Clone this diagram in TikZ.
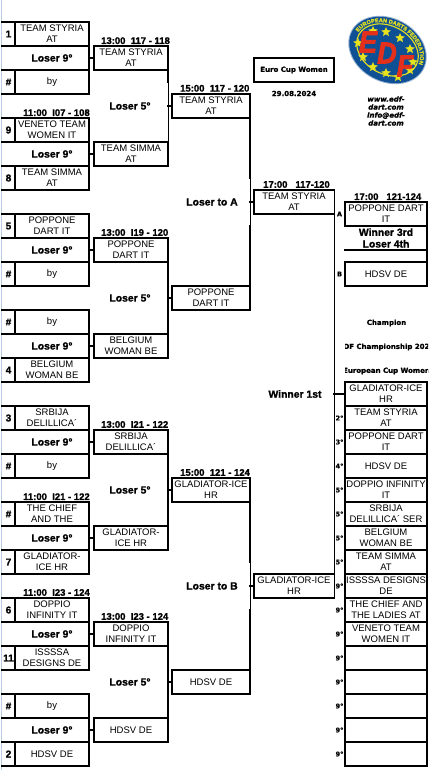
\documentclass[tikz,border=0pt]{standalone}
\usepackage{fontspec}
\setmainfont{Liberation Sans}[BoldFeatures={FakeBold=1.2},BoldItalicFeatures={FakeBold=3}]
\newfontfamily\wideblack{DejaVu Sans}[BoldFeatures={FakeBold=1},BoldItalicFeatures={FakeBold=1}]
\usetikzlibrary{shapes.geometric,decorations.text}
\definecolor{edfblue}{HTML}{0F4F94}
\definecolor{edfyellow}{HTML}{E6E21E}
\definecolor{edfred}{HTML}{E2301C}
\definecolor{gridblue}{HTML}{B9CDE5}
\tikzset{
  x=1pt,y=-1pt,
  bline/.style={line width=1.6pt,line cap=rect,line join=miter},
  thinline/.style={line width=0.9pt},
  teamtext/.style={inner sep=0pt,outer sep=0pt,align=center,font=\fontsize{9.5}{11}\selectfont},
  teambox/.style={teamtext,draw,line width=1.6pt,minimum width=#1,minimum height=24pt},
  blanklab/.style={teamtext,minimum width=#1,minimum height=24pt},
  boldlab/.style={inner sep=0pt,align=center,font=\fontsize{10.4}{12}\selectfont\bfseries},
  timelab/.style={inner sep=0pt,anchor=west,font=\fontsize{9.5}{11}\selectfont\bfseries},
  seedlab/.style={inner sep=0pt,font=\fontsize{10}{11}\selectfont\bfseries},
  ranklab/.style={inner sep=0pt,font=\fontsize{6.5}{7}\selectfont\wideblack\bfseries},
  tinylab/.style={inner sep=0pt,align=center,font=\fontsize{7}{8}\selectfont\wideblack\bfseries},
  urllab/.style={inner sep=0pt,align=center,font=\fontsize{7}{8}\selectfont\wideblack\bfseries\itshape},
  logostar/.style={star,star points=5,star point ratio=2.2,fill=edfyellow,inner sep=0pt,minimum size=10pt},
  logoletter/.style={inner sep=0pt,text=edfred,xscale=.9,font=\fontsize{30}{31}\selectfont\bfseries\itshape},
}
% id, top y, seed A, team A, seed B, team B
\newcommand{\seedgroup}[6]{
  \node[teambox=74pt] (t#1) at (52,#2+12) {#4};
  \node[teambox=74pt] (b#1) at (52,#2+60) {#6};
  \node[seedlab] (sa#1) at (8.5,#2+12) {#3};
  \node[seedlab] (sb#1) at (8.5,#2+60) {#5};
  \node[boldlab] (l#1) at (52,#2+36) {Loser 9°};
  \draw[bline] (t#1.north west) -- ++(-13,0);
  \draw[bline] (t#1.south west) -- ++(-13,0);
  \draw[bline] (b#1.north west) -- ++(-13,0);
  \draw[bline] (b#1.south west) -- ++(-13,0);
  \draw[bline] (t#1.south east) -- (b#1.north east);
}
% id, top y, team (second column), source group
\newcommand{\secondbox}[3]{
  \node[teambox=74pt] (w#1) at (131,#2+36) {#3};
  \draw[bline] (l#1 -| t#1.east) -- (w#1.west);
}
\begin{document}
\begin{tikzpicture}
\useasboundingbox (0,0) rectangle (428,770);
\fill[white] (0,0) rectangle (428,770);
\draw[gridblue,line width=1pt] (1,0) -- (1,770);

% first column
\seedgroup{1}{22}{1}{TEAM STYRIA\\AT}{\#}{by}
\seedgroup{2}{118}{9}{VENETO TEAM\\WOMEN IT}{8}{TEAM SIMMA\\AT}
\seedgroup{3}{214}{5}{POPPONE\\DART IT}{\#}{by}
\seedgroup{4}{310}{\#}{by}{4}{BELGIUM\\WOMAN BE}
\seedgroup{5}{406}{3}{SRBIJA\\DELILLICA´}{\#}{by}
\seedgroup{6}{502}{\#}{THE CHIEF\\AND THE}{7}{GLADIATOR-\\ICE HR}
\seedgroup{7}{598}{6}{DOPPIO\\INFINITY IT}{11}{ISSSSA\\DESIGNS DE}
\seedgroup{8}{694}{\#}{by}{2}{HDSV DE}

% second column
\secondbox{1}{22}{TEAM STYRIA\\AT}
\secondbox{2}{118}{TEAM SIMMA\\AT}
\secondbox{3}{214}{POPPONE\\DART IT}
\secondbox{4}{310}{BELGIUM\\WOMAN BE}
\secondbox{5}{406}{SRBIJA\\DELILLICA´}
\secondbox{6}{502}{GLADIATOR-\\ICE HR}
\secondbox{7}{598}{DOPPIO\\INFINITY IT}
\secondbox{8}{694}{HDSV DE}

% third column
\node[teambox=78pt] (q1) at (211,106) {TEAM STYRIA\\AT};
\node[teambox=78pt] (q2) at (211,298) {POPPONE\\DART IT};
\node[teambox=78pt] (q3) at (211,490) {GLADIATOR-ICE\\HR};
\node[teambox=78pt] (q4) at (211,682) {HDSV DE};

\node[boldlab] (m1) at (130,106) {Loser 5°};
\node[boldlab] (m2) at (130,298) {Loser 5°};
\node[boldlab] (m3) at (130,490) {Loser 5°};
\node[boldlab] (m4) at (130,682) {Loser 5°};

\coordinate (k1) at (168,82);
\draw[bline] (w1.south east) -- (k1);
\draw[thinline] (k1) -- (w2.north east);
\draw[bline] (w3.south east) -- (w4.north east);
\draw[bline] (w5.south east) -- (w6.north east);
\draw[bline] (w7.south east) -- (w8.north east);
\draw[bline] (q1.west -| w1.east) -- (q1.west);
\draw[bline] (q2.west -| w3.east) -- (q2.west);
\draw[bline] (q3.west -| w5.east) -- (q3.west);
\draw[bline] (q4.west -| w7.east) -- (q4.west);

% fourth column
\node[blanklab=80pt] (f1) at (294,202) {TEAM STYRIA\\AT};
\node[blanklab=80pt] (f2) at (294,586) {GLADIATOR-ICE\\HR};
\draw[bline] (f1.north east) -- (f1.north west) -- (f1.south west) -- (f1.south east);
\draw[bline] (f2.north east) -- (f2.north west) -- (f2.south west) -- (f2.south east);
\draw[thinline] (f1.north east) -- (f2.south east);

\node[boldlab] (la) at (212,202) {Loser to A};
\node[boldlab] (lb) at (212,586) {Loser to B};
\coordinate (ua1) at (250,178);
\coordinate (ua2) at (250,226);
\coordinate (ub1) at (250,562);
\coordinate (ub2) at (250,610);
\draw[bline] (q1.south east) -- (ua1);
\draw[thinline] (ua1) -- (ua2);
\draw[bline] (ua2) -- (q2.north east);
\draw[bline] (q3.south east) -- (ub1);
\draw[thinline] (ub1) -- (ub2);
\draw[bline] (ub2) -- (q4.north east);
\draw[bline] (f1.west -| q1.east) -- (f1.west);
\draw[bline] (f2.west -| q3.east) -- (f2.west);

% times
\node[timelab] (tm1) at (101,40.7) {13:00\ \ 117 - 118};
\node[timelab] (tm2) at (23,112.7) {11:00\ \ I07 - 108};
\node[timelab] (tm3) at (180,88.3) {15:00\ \ 117 - 120};
\node[timelab] (tm4) at (101,232.5) {13:00\ \ I19 - 120};
\node[timelab] (tm5) at (101,424.5) {13:00\ \ I21 - 122};
\node[timelab] (tm6) at (23,496.7) {11:00\ \ I21 - 122};
\node[timelab] (tm7) at (101,616.5) {13:00\ \ I23 - 124};
\node[timelab] (tm8) at (23,592.5) {11:00\ \ I23 - 124};
\node[timelab] (tm9) at (180,472.5) {15:00\ \ 121 - 124};
\node[timelab] (tm10) at (263,184.5) {17:00\ \ \ 117-120};
\node[timelab] (tm11) at (354,196.7) {17:00\ \ \ 121-124};

% A / B block
\node[teambox=82pt] (ra) at (386,214) {POPPONE DART\\IT};
\node[blanklab=82pt,font=\fontsize{10.4}{11.6}\selectfont\bfseries] (rm) at (386,238) {Winner 3rd\\Loser 4th};
\node[teambox=82pt] (rb) at (386,274) {HDSV DE};
\draw[bline] (rm.south west) -- (rm.south east);
\draw[bline] (ra.south east) -- (rb.north east);
\node[ranklab] (laba) at (339.5,214) {A};
\node[ranklab] (labb) at (339.5,274) {B};

% ranking
\node[teambox=82pt] (r1) at (386,394) {GLADIATOR-ICE\\HR};
\node[teambox=82pt] (r2) at (386,418) {TEAM STYRIA\\AT};
\node[teambox=82pt] (r3) at (386,442) {POPPONE DART\\IT};
\node[teambox=82pt] (r4) at (386,466) {HDSV DE};
\node[teambox=82pt] (r5) at (386,490) {DOPPIO INFINITY\\IT};
\node[teambox=82pt] (r6) at (386,514) {SRBIJA\\DELILLICA´ SER};
\node[teambox=82pt] (r7) at (386,538) {BELGIUM\\WOMAN BE};
\node[teambox=82pt] (r8) at (386,562) {TEAM SIMMA\\AT};
\node[teambox=82pt] (r9) at (386,586) {ISSSSA DESIGNS\\DE};
\node[teambox=82pt] (r10) at (386,610) {THE CHIEF AND\\THE LADIES AT};
\node[teambox=82pt] (r11) at (386,634) {VENETO TEAM\\WOMEN IT};
\node[teambox=82pt] (r12) at (386,658) {};
\node[teambox=82pt] (r13) at (386,682) {};
\node[teambox=82pt] (r14) at (386,706) {};
\node[teambox=82pt] (r15) at (386,730) {};
\node[teambox=82pt] (r16) at (386,754) {};
\foreach \i/\t in {2/2,3/3,4/4,5/5,6/5,7/5,8/5,9/9,10/9,11/9,12/9,13/9,14/9,15/9,16/9}{
  \node[ranklab] (rl\i) at (r\i.west -| 339.5,0) {\t°};
}
\node[boldlab] (win) at (295,394) {Winner 1st};
\draw[bline] (r1.west -| f1.east) -- (r1.west);

% captions
\node[teambox=80pt,font=\fontsize{7}{8}\selectfont\wideblack\bfseries] (cup) at (294,70) {Euro Cup Women};
\node[tinylab] (date) at (294,93.5) {29.08.2024};
\node[urllab] (url) at (386,111) {www.edf-\\dart.com\\info@edf-\\dart.com};
\begin{scope}
  \clip (345,300) rectangle (428,380);
  \node[tinylab] (c1) at (386.5,323) {Champion};
  \node[tinylab] (c2) at (386.5,347) {EDF Championship 2024};
  \node[tinylab] (c3) at (386.5,371) {European Cup Women};
\end{scope}

% logo
\begin{scope}[shift={(387.5,50)},rotate=-28]
  \fill[edfblue!45] (0,0) ellipse [x radius=41, y radius=32];
  \fill[edfblue] (0,0) ellipse [x radius=40, y radius=31];
  \draw[edfyellow,line width=1.1pt] (0,0) ellipse [x radius=32.5, y radius=24];
  \path[decorate,decoration={text along path,text align=center,
     text={|\fontsize{5.6}{6}\selectfont\bfseries\color{edfyellow}|EUROPEAN DARTS FEDERATION}}]
     (-34.07,-2.24) arc [start angle=175,end angle=5,x radius=34.2pt,y radius=25.7pt];
\end{scope}
\foreach \p [count=\n] in {(373,31),(386,32),(400,38),(410,49),(413,62),(410,70),(398,77),(386,73),(373,67),(363,57),(358,43)}{
  \node[logostar] (st\n) at \p {};
}
\node[logoletter] (le) at (368,42) {E};
\node[logoletter] (ld) at (387,53) {D};
\node[logoletter] (lf) at (405,66) {F};
\end{tikzpicture}
\end{document}
